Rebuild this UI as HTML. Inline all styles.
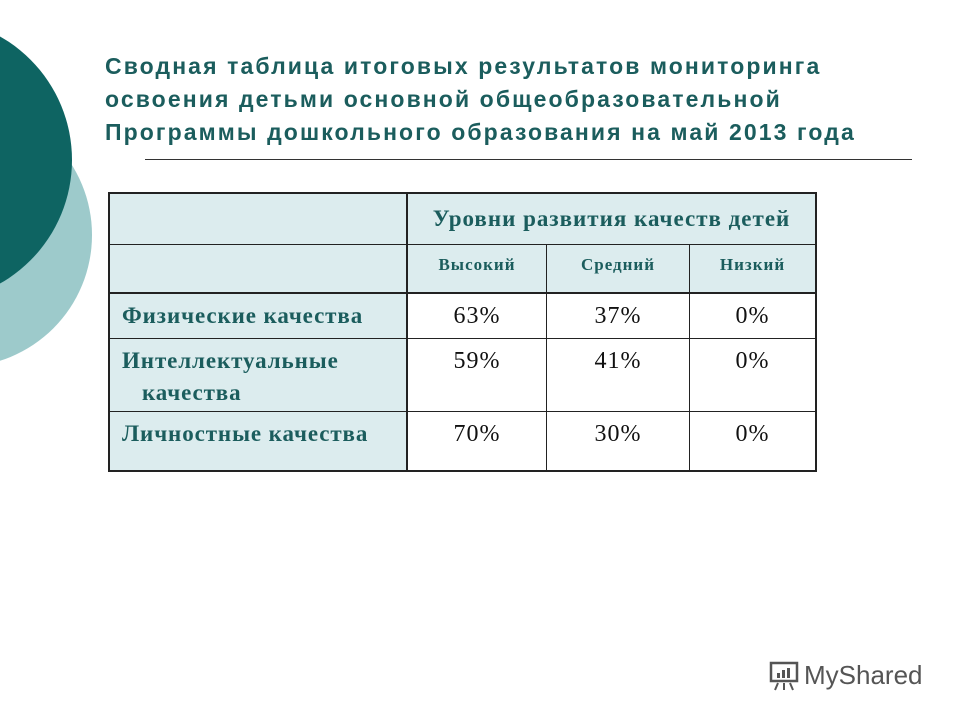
<!DOCTYPE html>
<html><head><meta charset="utf-8"><style>
body{margin:0;width:960px;height:720px;background:#fff;position:relative;overflow:hidden;font-family:"Liberation Sans",sans-serif}
.c{position:absolute;border-radius:50%}
.t{position:absolute;left:105px;top:50px;color:#1b5d5d;font-weight:bold;font-size:23px;line-height:33px;letter-spacing:2.1px;white-space:nowrap}
table{position:absolute;left:108px;top:192px;border-collapse:collapse;font-family:"Liberation Serif",serif}
td{border:1px solid #222;padding:0;text-align:center;color:#111}
.lab{background:#dcecee;color:#1b5d5d;font-weight:bold;font-size:23px;letter-spacing:0.9px;text-align:left;padding-left:12px;vertical-align:top;white-space:nowrap}
.hd{background:#dcecee;font-weight:bold;color:#1b5d5d}
.v{font-size:24px;letter-spacing:1px;vertical-align:top;padding-top:9px;background:#fff}
.sh{font-size:17px;letter-spacing:1px;vertical-align:top;padding-top:10px}
</style></head><body>
<div class="c" style="left:-212px;top:18px;width:284px;height:284px;background:#0e6462;z-index:2"></div>
<div class="c" style="left:-172px;top:103px;width:264px;height:264px;background:#9dcacb;z-index:1"></div>
<div class="t">Сводная таблица итоговых результатов мониторинга<br>освоения детьми основной общеобразовательной<br>Программы дошкольного образования на май 2013 года</div>
<div style="position:absolute;left:145px;top:159px;width:767px;height:1px;background:#333"></div>
<table style="border:2px solid #222">
<tr style="height:51px"><td class="hd" style="width:296px;border-right:2px solid #222"></td><td class="hd" colspan="3" style="font-size:23px;letter-spacing:1px">Уровни развития качеств детей</td></tr>
<tr style="height:49px;border-bottom:2px solid #222"><td class="hd" style="border-right:2px solid #222"></td><td class="hd sh" style="width:138px">Высокий</td><td class="hd sh" style="width:142px">Средний</td><td class="hd sh" style="width:125px">Низкий</td></tr>
<tr style="height:45px"><td class="lab" style="border-right:2px solid #222;padding-top:9px">Физические качества</td><td class="v">63%</td><td class="v">37%</td><td class="v">0%</td></tr>
<tr style="height:73px"><td class="lab" style="border-right:2px solid #222;padding-top:6px;line-height:32px">Интеллектуальные<br>&nbsp;&nbsp;&nbsp;качества</td><td class="v">59%</td><td class="v">41%</td><td class="v">0%</td></tr>
<tr style="height:60px"><td class="lab" style="border-right:2px solid #222;padding-top:9px">Личностные качества</td><td class="v">70%</td><td class="v">30%</td><td class="v">0%</td></tr>
</table>
<div style="position:absolute;left:768px;top:658px;font-size:26px;color:#555;display:flex;align-items:center;gap:4px">
<svg width="32" height="34" viewBox="0 0 32 34"><rect x="3" y="5" width="26" height="18" fill="none" stroke="#555" stroke-width="2.5"/><rect x="9" y="15" width="3" height="5" fill="#555"/><rect x="14" y="12" width="3" height="8" fill="#555"/><rect x="19" y="10" width="3" height="10" fill="#555"/><path d="M10 25 L7 32 M16 25 V32 M22 25 L25 32" stroke="#555" stroke-width="2"/></svg>MyShared</div>
</body></html>
